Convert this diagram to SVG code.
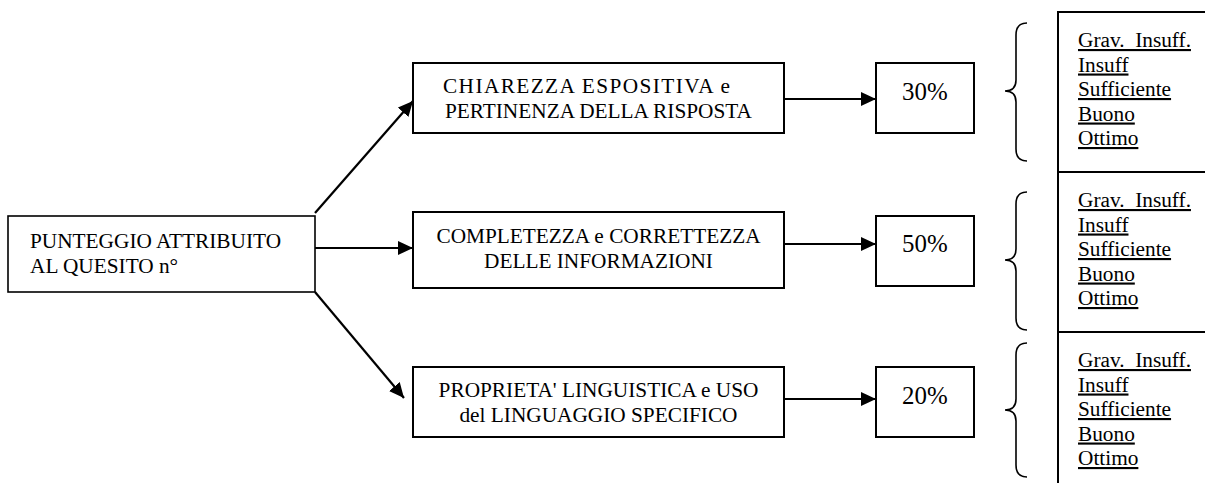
<svg xmlns="http://www.w3.org/2000/svg" width="1205" height="483" viewBox="0 0 1205 483">
<style>
  .box { fill: #fff; stroke: #000; stroke-width: 2; }
  .t { font-family: "Liberation Serif", "Times New Roman", serif; font-size: 21.3px; fill: #000; }
  .c { text-anchor: middle; }
  .pct { font-family: "Liberation Serif", "Times New Roman", serif; font-size: 24.9px; fill: #000; }
  .u { font-family: "Liberation Serif", "Times New Roman", serif; font-size: 21.3px; fill: #000; text-decoration: underline; white-space: pre; }
  .conn { stroke: #000; stroke-width: 2.2; fill: none; }
  .brace { stroke: #000; stroke-width: 1.6; fill: none; }
  .grid { stroke: #000; stroke-width: 2; fill: none; }
</style>
<defs>
  <marker id="arr" markerUnits="userSpaceOnUse" markerWidth="16" markerHeight="14" refX="15" refY="7" orient="auto">
    <path d="M0,0 L15,7 L0,14 Z" fill="#000"/>
  </marker>
</defs>

<g id="connectors">
  <line class="conn" x1="315" y1="213" x2="413" y2="101" marker-end="url(#arr)"/>
  <line class="conn" x1="315" y1="248" x2="413" y2="248" marker-end="url(#arr)"/>
  <line class="conn" x1="315" y1="292" x2="404" y2="398" marker-end="url(#arr)"/>
  <line class="conn" x1="784" y1="99" x2="876" y2="99" marker-end="url(#arr)"/>
  <line class="conn" x1="784" y1="244" x2="876" y2="244" marker-end="url(#arr)"/>
  <line class="conn" x1="784" y1="399" x2="876" y2="399" marker-end="url(#arr)"/>
</g>

<g id="node-punteggio">
  <rect class="box" x="8" y="216" width="307" height="76" style="stroke-width:1.6"/>
  <text class="t" x="30" y="248">PUNTEGGIO ATTRIBUITO</text>
  <text class="t" x="30" y="273">AL QUESITO n°</text>
</g>

<g id="node-chiarezza">
  <rect class="box" x="413" y="63" width="371" height="70"/>
  <text class="t" x="443" y="93" textLength="287" lengthAdjust="spacing">CHIAREZZA ESPOSITIVA e</text>
  <text class="t c" x="598.5" y="118">PERTINENZA DELLA RISPOSTA</text>
</g>

<g id="node-completezza">
  <rect class="box" x="413" y="212" width="371" height="76"/>
  <text class="t c" x="598.5" y="243">COMPLETEZZA e CORRETTEZZA</text>
  <text class="t c" x="598.5" y="268">DELLE INFORMAZIONI</text>
</g>

<g id="node-proprieta">
  <rect class="box" x="413" y="367" width="371" height="70"/>
  <text class="t c" x="598.5" y="397">PROPRIETA' LINGUISTICA e USO</text>
  <text class="t c" x="598.5" y="422">del LINGUAGGIO SPECIFICO</text>
</g>

<g id="node-30">
  <rect class="box" x="876" y="63" width="98" height="70"/>
  <text class="pct" x="902" y="100">30%</text>
</g>
<g id="node-50">
  <rect class="box" x="876" y="216" width="98" height="70"/>
  <text class="pct" x="902" y="252">50%</text>
</g>
<g id="node-20">
  <rect class="box" x="876" y="367" width="98" height="70"/>
  <text class="pct" x="902" y="404">20%</text>
</g>

<g id="braces">
  <path class="brace" d="M1027,23 Q1016,23 1016,35 L1016,80 Q1016,91 1005,91 Q1016,91 1016,102 L1016,149 Q1016,161 1027,161"/>
  <path class="brace" d="M1027,192 Q1016,192 1016,204 L1016,249 Q1016,260 1005,260 Q1016,260 1016,271 L1016,318 Q1016,330 1027,330"/>
  <path class="brace" d="M1027,343 Q1016,343 1016,355 L1016,399 Q1016,410 1005,410 Q1016,410 1016,421 L1016,465 Q1016,477 1027,477"/>
</g>

<g id="table">
  <line class="grid" x1="1058" y1="12" x2="1058" y2="483"/>
  <line class="grid" x1="1057" y1="12" x2="1205" y2="12"/>
  <line class="grid" x1="1057" y1="172" x2="1205" y2="172"/>
  <line class="grid" x1="1057" y1="332" x2="1205" y2="332"/>
</g>

<g id="scale-1">
  <text class="u" x="1078" y="47">Grav.  Insuff.</text>
  <text class="u" x="1078" y="71.5">Insuff</text>
  <text class="u" x="1078" y="96">Sufficiente</text>
  <text class="u" x="1078" y="120.5">Buono</text>
  <text class="u" x="1078" y="145">Ottimo</text>
</g>
<g id="scale-2">
  <text class="u" x="1078" y="207">Grav.  Insuff.</text>
  <text class="u" x="1078" y="231.5">Insuff</text>
  <text class="u" x="1078" y="256">Sufficiente</text>
  <text class="u" x="1078" y="280.5">Buono</text>
  <text class="u" x="1078" y="305">Ottimo</text>
</g>
<g id="scale-3">
  <text class="u" x="1078" y="367">Grav.  Insuff.</text>
  <text class="u" x="1078" y="391.5">Insuff</text>
  <text class="u" x="1078" y="416">Sufficiente</text>
  <text class="u" x="1078" y="440.5">Buono</text>
  <text class="u" x="1078" y="465">Ottimo</text>
</g>
</svg>
